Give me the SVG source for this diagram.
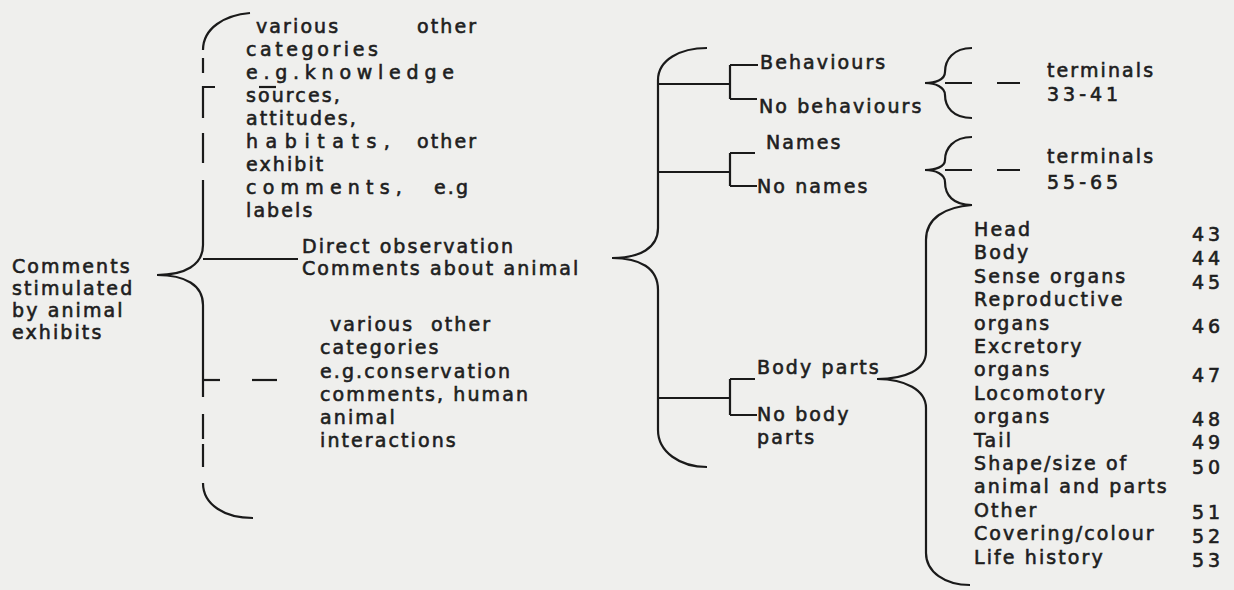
<svg xmlns="http://www.w3.org/2000/svg" width="1234" height="590" viewBox="0 0 1234 590">
<style>
text{font-family:"DejaVu Sans","Verdana",sans-serif;font-size:19px;fill:#1e1e1e;stroke:#1e1e1e;stroke-width:0.6px;letter-spacing:2.1px}
.ln{fill:none;stroke:#1a1a1a;stroke-width:2.2;stroke-linecap:butt}
.num{letter-spacing:4px}
.term{letter-spacing:4px}
</style>
<rect x="0" y="0" width="1234" height="590" fill="#efefed"/>
<g id="connectors">
<path class="ln" d="M250,13 C225,15 203,28 203,50"/>
<path class="ln" d="M203,58 V73"/>
<path class="ln" d="M215,87 H203 V118"/>
<path class="ln" d="M259,87 H276"/>
<path class="ln" d="M203,133 V163"/>
<path class="ln" d="M203,180 V245 C203,265 185,275 157,275 C185,275 203,285 203,305 V397"/>
<path class="ln" d="M203,259 H298"/>
<path class="ln" d="M203,380 H220"/>
<path class="ln" d="M252,380 H277"/>
<path class="ln" d="M203,414 V439"/>
<path class="ln" d="M203,444 V467"/>
<path class="ln" d="M203,483 C203,505 225,518 253,518"/>
<path class="ln" d="M707,48 C680,48 658,60 658,80 V228 C658,248 640,258 612,258 C640,258 658,268 658,290 V430 C658,452 680,467 707,467"/>
<path class="ln" d="M658,84 H730 M730,65 V99 M730,65 H758 M730,99 H757"/>
<path class="ln" d="M658,172 H730 M730,153 V186 M730,153 H755 M730,186 H757"/>
<path class="ln" d="M658,398 H730 M730,379 V415 M730,379 H755 M730,415 H757"/>
<path class="ln" d="M972,48 C953,48 945,60 945,72 C945,80 935,83 925,83 C935,83 945,87 945,95 C945,107 953,118 972,118"/>
<path class="ln" d="M945,83 H972 M997,83 H1020"/>
<path class="ln" d="M972,137 C953,137 945,149 945,160 C945,167 935,170 925,170 C935,170 945,174 945,182 C945,195 953,205 972,205"/>
<path class="ln" d="M945,170 H972 M997,170 H1020"/>
<path class="ln" d="M972,205 C945,207 926,218 926,240 V352 C926,370 905,379 877,379 C905,379 926,390 926,408 V553 C926,572 945,585 970,585"/>
</g>
<g id="root-label">
<text x="12" y="273">Comments</text>
<text x="12" y="295">stimulated</text>
<text x="12" y="317">by animal</text>
<text x="12" y="339">exhibits</text>
</g>
<g id="other-categories-upper">
<text y="33"><tspan x="256">various</tspan><tspan x="417">other</tspan></text>
<text x="246" y="56" textLength="134" lengthAdjust="spacing">categories</text>
<text x="246" y="79" textLength="210" lengthAdjust="spacing">e.g.knowledge</text>
<text x="246" y="102">sources,</text>
<text x="246" y="125">attitudes,</text>
<text y="148"><tspan x="246" textLength="146" lengthAdjust="spacing">habitats,</tspan><tspan x="417">other</tspan></text>
<text x="246" y="171">exhibit</text>
<text y="194"><tspan x="246" textLength="158" lengthAdjust="spacing">comments,</tspan><tspan x="434">e.g</tspan></text>
<text x="246" y="217">labels</text>
</g>
<g id="direct-observation">
<text x="302" y="253">Direct observation</text>
<text x="302" y="275">Comments about animal</text>
</g>
<g id="other-categories-lower">
<text y="331"><tspan x="330">various</tspan><tspan x="431">other</tspan></text>
<text x="320" y="354">categories</text>
<text x="320" y="378">e.g.conservation</text>
<text x="320" y="401">comments, human</text>
<text x="320" y="424">animal</text>
<text x="320" y="447">interactions</text>
</g>
<g id="behaviours">
<text x="760" y="69">Behaviours</text>
<text x="759" y="113">No behaviours</text>
</g>
<g id="names">
<text x="766" y="149">Names</text>
<text x="757" y="193">No names</text>
</g>
<g id="body-parts">
<text x="757" y="374">Body parts</text>
<text x="757" y="421">No body</text>
<text x="757" y="444">parts</text>
</g>
<g id="terminals-33-41">
<text x="1047" y="77">terminals</text>
<text class="term" x="1047" y="101">33-41</text>
</g>
<g id="terminals-55-65">
<text x="1047" y="163">terminals</text>
<text class="term" x="1047" y="189">55-65</text>
</g>
<g id="body-part-list">
<text x="974" y="236">Head</text>
<text x="974" y="259">Body</text>
<text x="974" y="283">Sense organs</text>
<text x="974" y="306">Reproductive</text>
<text x="974" y="330">organs</text>
<text x="974" y="353">Excretory</text>
<text x="974" y="376">organs</text>
<text x="974" y="400">Locomotory</text>
<text x="974" y="423">organs</text>
<text x="974" y="447">Tail</text>
<text x="974" y="470">Shape/size of</text>
<text x="974" y="493">animal and parts</text>
<text x="974" y="517">Other</text>
<text x="974" y="540">Covering/colour</text>
<text x="974" y="564">Life history</text>
</g>
<g id="codes">
<text class="num" x="1192" y="241">43</text>
<text class="num" x="1192" y="265">44</text>
<text class="num" x="1192" y="289">45</text>
<text class="num" x="1192" y="333">46</text>
<text class="num" x="1192" y="382">47</text>
<text class="num" x="1192" y="426">48</text>
<text class="num" x="1192" y="449">49</text>
<text class="num" x="1192" y="474">50</text>
<text class="num" x="1192" y="519">51</text>
<text class="num" x="1192" y="543">52</text>
<text class="num" x="1192" y="567">53</text>
</g>
</svg>
